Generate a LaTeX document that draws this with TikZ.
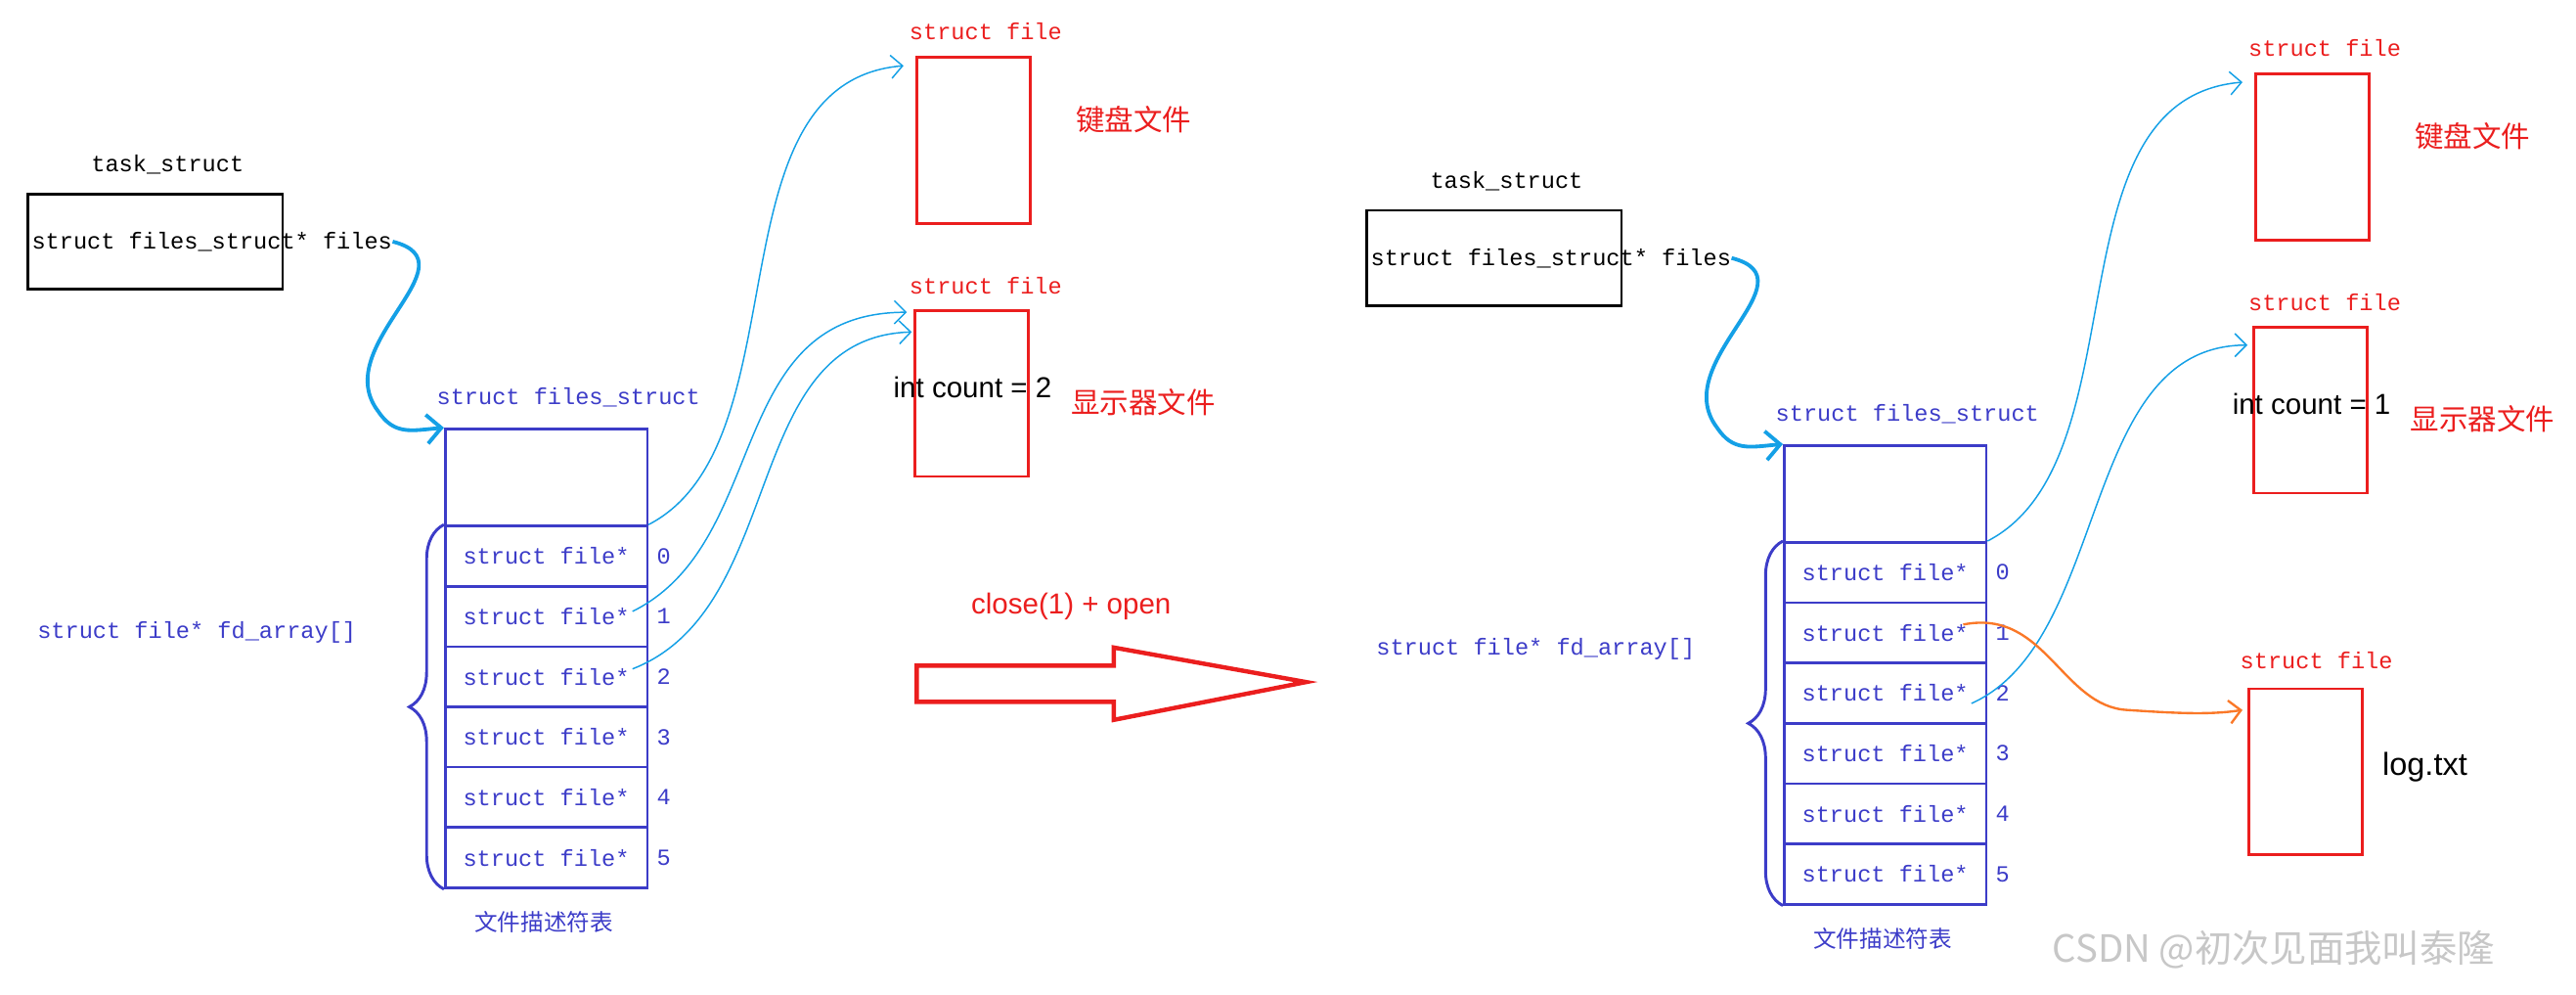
\documentclass[tikz,border=0pt]{standalone}
\usepackage{fontspec}
\setmainfont{Liberation Serif}
\setsansfont{Liberation Sans}
\setmonofont{Liberation Mono}
\newfontfamily\cjk{Noto Sans CJK SC}
\usetikzlibrary{decorations.pathreplacing,arrows.meta}
\definecolor{tb}{RGB}{60,60,200}
\definecolor{cy}{RGB}{20,160,230}
\definecolor{rd}{RGB}{235,30,30}
\definecolor{org}{RGB}{250,120,40}
\tikzset{
 mono/.style={font=\ttfamily\fontsize{8}{9}\selectfont},
 lbl/.style={mono,text=tb},
 rlbl/.style={mono,text=rd},
 rowbox/.style={draw=tb,line width=0.9pt,minimum width=2.46cm,minimum height=0.734cm,inner sep=0,lbl},
 rbox/.style={draw=rd,line width=0.9pt,minimum width=1.38cm,minimum height=2.02cm},
 cjkred/.style={font=\cjk\fontsize{10}{12}\selectfont,text=rd},
 thin/.style={cy,line width=0.5pt,-{Straight Barb[length=4pt]}},
}
\newcommand\drawside[2]{%
 \node[mono] (#1ts) at (102,100) {task\_struct};
 \node[draw,line width=0.9pt,minimum width=3.1cm,minimum height=1.16cm] (#1tb) at (94.5,147) {};
 \node[mono,anchor=west,inner sep=0] (#1fl) at (19,147) {struct files\_struct* files};
 \node[lbl] (#1fsl) at (346,242) {struct files\_struct};
 \node[draw=tb,line width=0.9pt,minimum width=2.46cm,minimum height=1.18cm] (#1top) at (332.5,290.5) {};
 \foreach \i in {0,...,5}{
  \node[rowbox] (#1r\i) at (332.5,338.35+36.7*\i) {struct file*};
  \node[lbl] (#1n\i) at (404,338.35+36.7*\i) {\i};
 }
 \node[font=\cjk\fontsize{8}{10}\selectfont,text=tb] (#1cap) at (331,561) {文件描述符表};
 \draw[tb,line width=1pt,decorate,decoration={brace,amplitude=12pt}] (#1r5.south west) -- (#1r0.north west) coordinate[midway,xshift=-12pt] (#1bt);
 \node[lbl,anchor=east] (#1fa) at (223,385) {struct file* fd\_array[]};
 \draw[cy,line width=1.3pt,-{Straight Barb[length=5pt]}] (#1fl.east) .. controls (290,160) and (200,210) .. (230,250) .. controls (240,265) and (250,262) .. (#1top.north west);
 \node[rbox] (#1b1) at (592.5,85.5) {};
 \node[rlbl] (#1b1l) at (600,19) {struct file};
 \node[cjkred] (#1k1) at (690,73) {键盘文件};
 \node[rbox] (#1b2) at (591.5,239.5) {};
 \node[rlbl] (#1b2l) at (600,174) {struct file};
 \node[font=\sffamily\fontsize{10}{12}\selectfont] (#1ic) at (592,236) {int count = #2};
 \node[cjkred] (#1k2) at (696,245) {显示器文件};
 \draw[thin] (#1r0.north east) .. controls (490,270) and (430,50) .. (550,40);
}
\begin{document}
\begin{tikzpicture}[x=0.02cm,y=-0.02cm]
\useasboundingbox (0,0) rectangle (1568,605);
\begin{scope}
\drawside{L}{2}
\draw[thin] (385,372) .. controls (470,330) and (440,190) .. (552,190);
\draw[thin] (385,407) .. controls (480,370) and (450,205) .. (555,202);
\node[font=\sffamily\fontsize{10}{12}\selectfont,text=rd] (op) at (652,369) {close(1) + open};
\draw[rd,line width=1.5pt] (558,405) -- (678,405) -- (678,394) -- (795,415) -- (678,438) -- (678,427) -- (558,427) -- cycle;
\end{scope}
\begin{scope}[shift={(815,10)}]
\drawside{R}{1}
\draw[thin] (385,418) .. controls (470,380) and (450,200) .. (553,200);
\draw[org,line width=0.8pt,-{Straight Barb[length=4pt]}] (380,370) .. controls (430,360) and (440,420) .. (480,422) .. controls (510,424) and (530,425) .. (550,422);
\node[rbox] (Rb3) at (588.5,459.5) {};
\node[rlbl] (Rb3l) at (595,392) {struct file};
\node[font=\sffamily\fontsize{11}{13}\selectfont] (Rlog) at (661,457) {log.txt};
\end{scope}
\node[font=\cjk\fontsize{13}{15}\selectfont,text=black!22] (wm) at (1384,578) {CSDN @初次见面我叫泰隆};
\end{tikzpicture}
\end{document}
